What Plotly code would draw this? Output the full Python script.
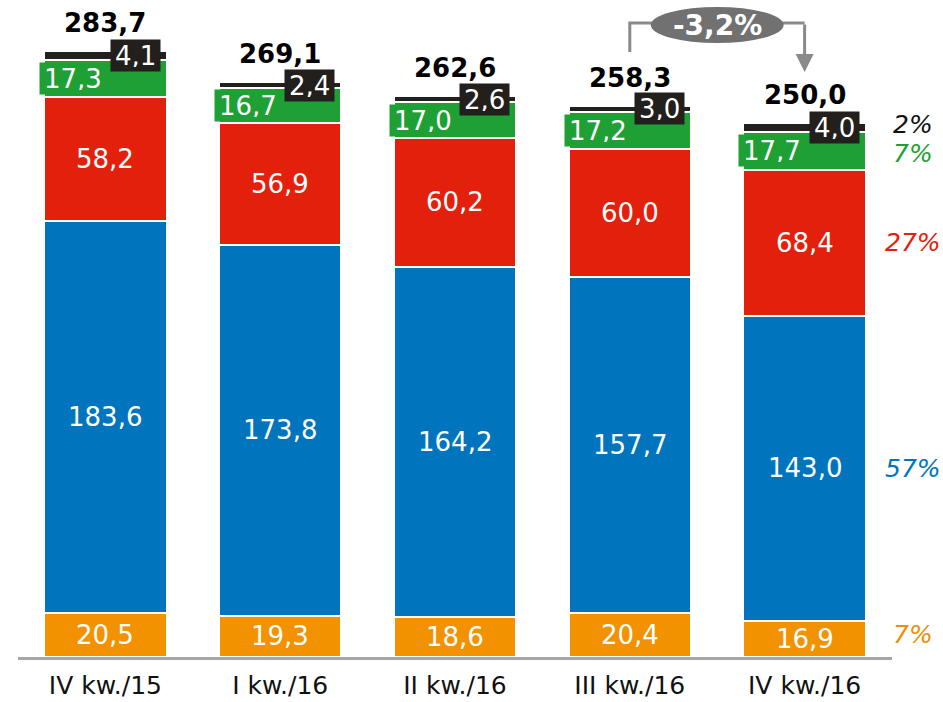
import plotly.graph_objects as go

categories = ["IV kw./15", "I kw./16", "II kw./16", "III kw./16", "IV kw./16"]
orange_vals = [20.5, 19.3, 18.6, 20.4, 16.9]
blue_vals = [183.6, 173.8, 164.2, 157.7, 143.0]
red_vals = [58.2, 56.9, 60.2, 60.0, 68.4]
green_vals = [17.3, 16.7, 17.0, 17.2, 17.7]
black_vals = [4.1, 2.4, 2.6, 3.0, 4.0]
totals = [283.7, 269.1, 262.6, 258.3, 250.0]

C_OR = "#F39200"
C_BL = "#0075BE"
C_RD = "#E3200B"
C_GR = "#1FA035"
C_BK = "#231F1C"
FONT = "DejaVu Sans"

def fmt(v):
    return f"{v:.1f}".replace(".", ",")

series = [
    (orange_vals, C_OR),
    (blue_vals, C_BL),
    (red_vals, C_RD),
    (green_vals, C_GR),
    (black_vals, C_BK),
]

fig = go.Figure()
for vals, col in series:
    fig.add_trace(go.Bar(
        x=categories, y=vals, width=0.70,
        marker=dict(color=col, line=dict(color="white", width=2)),
        hoverinfo="skip", showlegend=False,
    ))

ann = []
n = len(categories)
for i in range(n):
    base = 0.0
    for k, (vals, col) in enumerate(series):
        v = vals[i]
        mid = base + v / 2
        if k in (0, 1, 2):
            ann.append(dict(x=i, y=mid, text=fmt(v), showarrow=False,
                            font=dict(family=FONT, size=26, color="white")))
        elif k == 3:
            ann.append(dict(x=i - 0.35, y=mid, text=fmt(v), showarrow=False,
                            xanchor="left", xshift=-5, bgcolor=C_GR, borderpad=4,
                            height=23,
                            font=dict(family=FONT, size=26, color="white")))
        else:
            ann.append(dict(x=i + 0.17, y=mid, text=fmt(v), showarrow=False,
                            bgcolor=C_BK, borderpad=4, height=23,
                            font=dict(family=FONT, size=26, color="white")))
        base += v
    ann.append(dict(x=i, y=totals[i], yshift=28, text="<b>" + fmt(totals[i]) + "</b>",
                    showarrow=False, font=dict(family=FONT, size=26, color="black")))

# right-side shares of last bar
last = n - 1
share_cols = ["#E8900A", C_BL, C_RD, C_GR, "#111111"]
share_shift = [4, 0, 0, -3, 3]
base = 0.0
for k, (vals, col) in enumerate(series):
    v = vals[last]
    mid = base + v / 2
    pct = round(v / totals[last] * 100)
    ann.append(dict(xref="paper", x=1.024, xanchor="center", y=mid, yshift=share_shift[k],
                    text=f"<i>{pct}%</i>", showarrow=False,
                    font=dict(family=FONT, size=25, color=share_cols[k])))
    base += v

# change annotation
chg = (totals[-1] - totals[-2]) / totals[-2] * 100
chg_txt = f"{chg:.1f}".replace(".", ",") + "%"
GREY = "#8a8a8a"
PX = 2.135
def py(p):
    return (657 - p) / PX

shapes = [
    dict(type="path", path=f"M 3,{py(52)} L 3,{py(23)} L 3.3,{py(23)}",
         line=dict(color=GREY, width=3)),
    dict(type="line", x0=3.7, x1=4, y0=py(23), y1=py(23), line=dict(color=GREY, width=3)),
    dict(type="circle", x0=3.12, x1=3.88, y0=py(43), y1=py(7),
         fillcolor="#717171", line=dict(width=0)),
]
ann.append(dict(x=4, y=py(72), ax=4, ay=py(23), axref="x", ayref="y", text="",
                showarrow=True, arrowhead=2, arrowsize=1.2, arrowwidth=3, arrowcolor=GREY))
ann.append(dict(x=3.5, y=py(25), text="<b>" + chg_txt + "</b>", showarrow=False,
                font=dict(family=FONT, size=28, color="white")))

fig.update_layout(
    barmode="stack",
    width=943, height=702,
    margin=dict(l=18, r=51, t=0, b=45, autoexpand=False),
    plot_bgcolor="white", paper_bgcolor="white",
    annotations=ann, shapes=shapes,
    xaxis=dict(range=[-0.5, 4.5], showline=True, linecolor="#A6A6A6", linewidth=3,
               showgrid=False, ticks="", ticklabelstandoff=4, automargin=False,
               tickfont=dict(family=FONT, size=25, color="#111111")),
    yaxis=dict(range=[0, 657 / PX], visible=False, showgrid=False, zeroline=False,
               automargin=False),
)

fig.write_html("out.html", config={"displayModeBar": False},
               post_script="document.body.style.margin='0';document.body.style.overflow='hidden';")
